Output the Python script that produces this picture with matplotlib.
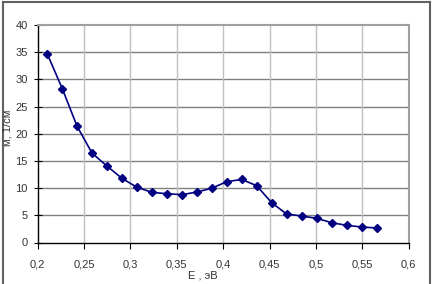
import matplotlib
matplotlib.use('Agg')
import matplotlib.pyplot as plt
from matplotlib.lines import Line2D

# ── данные ───────────────────────────────────────
energy = [0.2106, 0.2267, 0.2426, 0.2587, 0.2749, 0.2910, 0.3072, 0.3234,
          0.3395, 0.3557, 0.3719, 0.3880, 0.4039, 0.4200, 0.4362, 0.4524,
          0.4685, 0.4847, 0.5009, 0.5170, 0.5332, 0.5493, 0.5655]
absorb = [34.65, 28.3, 21.4, 16.45, 14.06, 11.8, 10.15, 9.22,
          8.97, 8.8, 9.28, 10.0, 11.18, 11.6, 10.45, 7.3,
          5.24, 4.87, 4.45, 3.64, 3.16, 2.85, 2.67]
xticks = [0.2, 0.25, 0.3, 0.35, 0.4, 0.45, 0.5, 0.55, 0.6]
yticks = [0, 5, 10, 15, 20, 25, 30, 35, 40]

plt.rcParams['font.family'] = ['Liberation Sans', 'DejaVu Sans']

fig = plt.figure(figsize=(4.32, 2.84), dpi=100)
ax = fig.add_axes([37.5/432, 1 - 242.5/284, (408.7 - 37.5)/432, (242.5 - 25)/284])

# сетка: горизонтальные темнее, вертикальные светлее
for y in yticks[1:-1]:
    ax.axhline(y, color='#808080', lw=1.0, zorder=1)
for x in xticks[1:-1]:
    ax.axvline(x, color='#c0c0c0', lw=1.0, zorder=1)

ax.plot(energy, absorb, color='#000080', lw=1.2, marker='D', ms=4.2,
        mfc='#000080', mec='#000080', zorder=3)

ax.set_xlim(0.2, 0.6)
ax.set_ylim(0, 40)
ax.set_xticks(xticks)
ax.set_yticks(yticks)
ax.set_xticklabels([f'{t:g}'.replace('.', ',') for t in xticks])
ax.set_yticklabels([str(t) for t in yticks])
ax.tick_params(axis='y', direction='inout', length=6, width=0.8, labelsize=8,
               labelcolor='#333333', pad=4)
ax.tick_params(axis='x', direction='out', length=4, width=0.8, labelsize=8,
               labelcolor='#333333', pad=8)

for s in ['left', 'bottom']:
    ax.spines[s].set_color('black')
    ax.spines[s].set_linewidth(1.0)
for s in ['top', 'right']:
    ax.spines[s].set_color('#a0a0a0')
    ax.spines[s].set_linewidth(1.5)

fig.text(203/432, 1 - 275/284, 'E , эВ', ha='center', va='center',
         fontsize=8, color='#333333')
fig.text(8/432, 1 - 128/284, 'м, 1/см', ha='center', va='center',
         rotation=90, fontsize=8, color='#333333')

# рамка области диаграммы
for xs, ys in [([2.5, 2.5], [290, 1.5]), ([2.5, 429.5], [1.5, 1.5]),
               ([429.5, 429.5], [1.5, 290])]:
    fig.add_artist(Line2D([v/432 for v in xs], [1 - v/284 for v in ys],
                          color='#606060', lw=1.5))

plt.savefig('out.png', dpi=100)
